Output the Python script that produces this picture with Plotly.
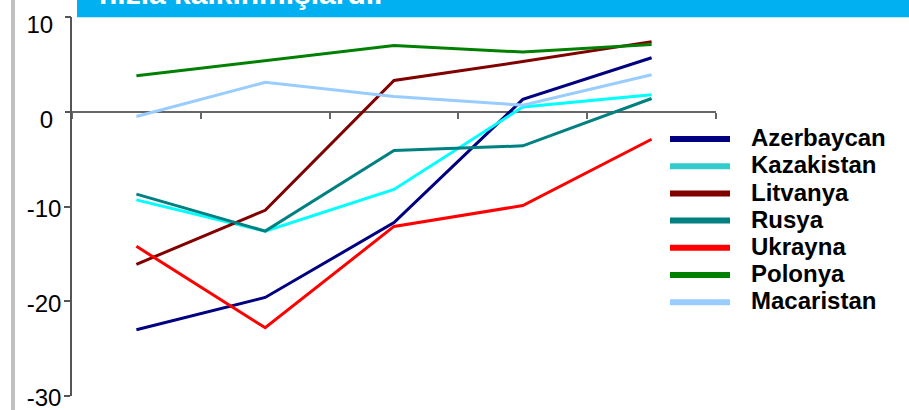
import plotly.graph_objects as go

# ---------------- data ----------------
categories = ["1996", "1997", "1998", "1999", "2000"]
series_names = ["Azerbaycan", "Kazakistan", "Litvanya", "Rusya", "Ukrayna", "Polonya", "Macaristan"]
azerbaycan = [-23.0, -19.6, -11.7, 1.3, 5.7]
kazakistan = [-9.3, -12.6, -8.2, 0.5, 1.8]
litvanya = [-16.1, -10.4, 3.3, 5.3, 7.4]
rusya = [-8.7, -12.6, -4.1, -3.6, 1.4]
ukrayna = [-14.2, -22.8, -12.1, -9.9, -2.9]
polonya = [3.8, 5.4, 7.0, 6.3, 7.1]
macaristan = [-0.5, 3.1, 1.6, 0.7, 3.9]
y_ticks_neg = [-30, -20, -10]
y_ticks_pos = [0, 10]
title_text = "hızla kalkınmışlardır"

series_values = [azerbaycan, kazakistan, litvanya, rusya, ukrayna, polonya, macaristan]

# ---------------- style ----------------
line_colors = ["#000080", "#00ffff", "#800000", "#008080", "#ff0000", "#008000", "#99ccff"]
legend_colors = ["#000080", "#33cccc", "#800000", "#008080", "#ff0000", "#008000", "#99ccff"]
FONT = "Arial, 'Liberation Sans', sans-serif"
W, H = 909, 410
ML, MR, MT, MB = 72, 193, 17, 14
PW, PH = W - ML - MR, H - MT - MB


def px_x(px):
    return (px - ML) / PW


def px_y(py):
    return (H - MB - py) / PH


fig = go.Figure()
for name, vals, col in zip(series_names, series_values, line_colors):
    fig.add_trace(go.Scatter(x=categories, y=vals, mode="lines", name=name,
                             line=dict(color=col, width=3), showlegend=False,
                             hoverinfo="x+y+name"))
# invisible helper trace so that the second (label) y axis is drawn
fig.add_trace(go.Scatter(x=categories[:1], y=[None], yaxis="y2", mode="lines",
                         showlegend=False, hoverinfo="skip"))

axis_font = dict(family=FONT, size=24, color="#000000")

fig.update_layout(
    template="none",
    width=W, height=H,
    margin=dict(l=ML, r=MR, t=MT, b=MB, pad=0),
    paper_bgcolor="white", plot_bgcolor="white",
    showlegend=False,
    xaxis=dict(type="category", range=[-0.5, len(categories) - 0.5],
               anchor="free", position=0.75, automargin=False,
               showline=True, linecolor="#666666", linewidth=1.5,
               ticks="outside", tickson="boundaries", ticklen=6, tickcolor="#666666", tickwidth=1.5,
               showticklabels=False, showgrid=False, zeroline=False, layer="below traces"),
    yaxis=dict(range=[-30, 10], tickvals=y_ticks_neg, ticktext=[str(v) for v in y_ticks_neg],
               automargin=False,
               ticks="outside", ticklen=6, tickcolor="#555555", tickwidth=1.5,
               showline=True, linecolor="#555555", linewidth=1.5,
               tickfont=axis_font, ticklabelshift=2, ticklabelstandoff=-2,
               ticklabeloverflow="allow",
               showgrid=False, zeroline=False),
    yaxis2=dict(range=[-30, 10], overlaying="y", side="left", anchor="x",
                automargin=False,
                tickvals=y_ticks_pos, ticktext=[str(v) for v in y_ticks_pos],
                ticks="outside", ticklen=6, tickcolor="#555555", tickwidth=1.5,
                showline=False, tickfont=axis_font, ticklabelshift=8, ticklabelstandoff=7,
                ticklabeloverflow="allow",
                showgrid=False, zeroline=False),
)

shapes = [
    # grey frame line on the left
    dict(type="rect", xref="paper", yref="paper", x0=px_x(11), x1=px_x(15), y0=-0.2, y1=1.2,
         fillcolor="#c0c0c0", line=dict(width=0), layer="below"),
    # blue title bar
    dict(type="rect", xref="paper", yref="paper", x0=px_x(77), x1=1.5, y0=px_y(17.3), y1=1.3,
         fillcolor="#00b0f0", line=dict(width=0), layer="below"),
]
annotations = [
    dict(text=title_text, xref="paper", yref="paper", x=px_x(97), y=px_y(11.9),
         xanchor="left", yanchor="bottom", showarrow=False,
         font=dict(family=FONT, size=30, color="white", weight="bold")),
]

# legend (drawn as line samples + labels)
LEG_LINE_Y0, LEG_STEP = 139, 27.2
for i, (name, col) in enumerate(zip(series_names, legend_colors)):
    yy = LEG_LINE_Y0 + LEG_STEP * i
    shapes.append(dict(type="line", xref="paper", yref="paper", x0=px_x(670), x1=px_x(730),
                       y0=px_y(yy), y1=px_y(yy), line=dict(color=col, width=6)))
    annotations.append(dict(text=name, xref="paper", yref="paper", x=px_x(750), y=px_y(yy - 1.3),
                            xanchor="left", yanchor="middle", showarrow=False, borderpad=0,
                            font=dict(family=FONT, size=24, color="black", weight="bold")))

fig.update_layout(shapes=shapes, annotations=annotations)

fig.write_html("out.html")
